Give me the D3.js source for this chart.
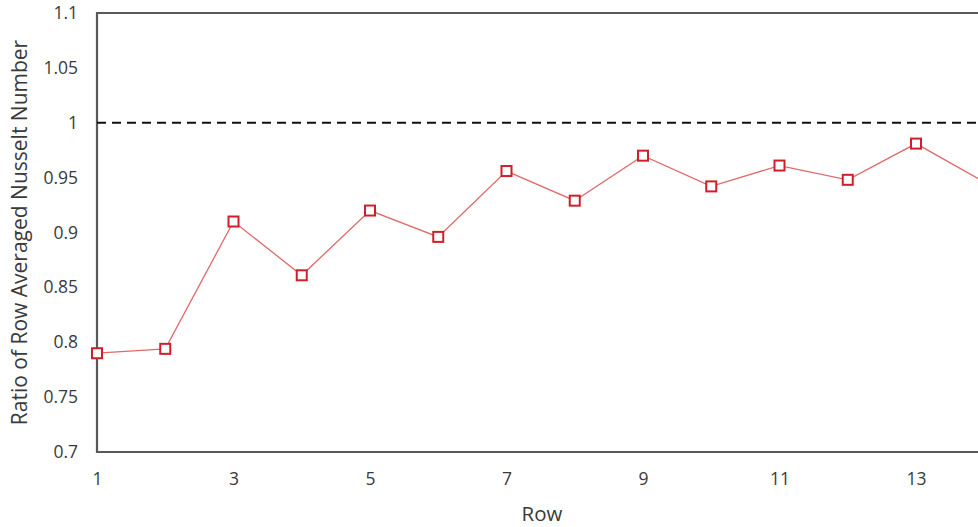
<!DOCTYPE html>
<html><head><meta charset="utf-8">
<script src="https://cdn.jsdelivr.net/npm/d3@7"></script>
<style>body{margin:0;background:#fff;overflow:hidden}svg{display:block}</style>
</head><body>
<script>
const rows = [1,2,3,4,5,6,7,8,9,10,11,12,13,14];
const ratio = [0.790,0.794,0.910,0.861,0.920,0.896,0.956,0.929,0.970,0.942,0.961,0.948,0.981,0.946];
const xTicks = [1,3,5,7,9,11,13];
const yTicks = [0.7,0.75,0.8,0.85,0.9,0.95,1,1.05,1.1];
const reference = 1.0;

const W=978,H=527;
const svg=d3.select("body").append("svg").attr("width",W).attr("height",H);
const x=d3.scaleLinear().domain([1,13]).range([97,916]);
const y=d3.scaleLinear().domain([0.7,1.1]).range([452,13]);
const font="'Open Sans', 'Liberation Sans', sans-serif";
const axisCol="#595959";

// frame
svg.append("line").attr("x1",x(1)).attr("x2",W+10).attr("y1",y(1.1)).attr("y2",y(1.1)).attr("stroke",axisCol).attr("stroke-width",2.2);
svg.append("line").attr("x1",x(1)).attr("x2",W+10).attr("y1",y(0.7)).attr("y2",y(0.7)).attr("stroke",axisCol).attr("stroke-width",2.2);
svg.append("line").attr("x1",x(1)).attr("x2",x(1)).attr("y1",y(1.1)-1.1).attr("y2",y(0.7)+1.1).attr("stroke",axisCol).attr("stroke-width",2.2);

// axes labels via d3 axis
const yAxis=svg.append("g").attr("transform",`translate(${x(1)-11},0)`)
  .call(d3.axisLeft(y).tickValues(yTicks).tickSize(0).tickPadding(8).tickFormat(d=>String(+d.toFixed(2))));
yAxis.select(".domain").remove();
yAxis.selectAll("text").attr("font-family",font).attr("font-size",17.5).attr("fill","#3a3a3a");

const xAxis=svg.append("g").attr("transform",`translate(0,${y(0.7)+15})`)
  .call(d3.axisBottom(x).tickValues(xTicks).tickSize(0).tickPadding(6).tickFormat(d3.format("d")));
xAxis.select(".domain").remove();
xAxis.selectAll("text").attr("font-family",font).attr("font-size",17.5).attr("fill","#3a3a3a");

// reference dashed line
svg.append("line").attr("x1",x(1)).attr("x2",W+10).attr("y1",y(reference)).attr("y2",y(reference))
  .attr("stroke","#111").attr("stroke-width",2.2).attr("stroke-dasharray","9,6");

// series
const pts=rows.map((r,i)=>[r,ratio[i]]);
svg.append("path").datum(pts).attr("fill","none").attr("stroke","#e06a6a").attr("stroke-width",1.3)
  .attr("d",d3.line().x(d=>x(d[0])).y(d=>y(d[1])));
svg.selectAll("rect.m").data(pts).enter().append("rect").attr("class","m")
  .attr("x",d=>x(d[0])-5).attr("y",d=>y(d[1])-5).attr("width",10).attr("height",10)
  .attr("fill","#fff").attr("stroke","#d01f2a").attr("stroke-width",2);

// titles
svg.append("text").attr("x",542).attr("y",521).attr("text-anchor","middle")
  .attr("font-family",font).attr("font-size",20.5).attr("fill","#3a3a3a").text("Row");
svg.append("text").attr("transform",`translate(27,${(y(0.7)+y(1.1))/2}) rotate(-90)`).attr("text-anchor","middle")
  .attr("font-family",font).attr("font-size",21).attr("fill","#3a3a3a").text("Ratio of Row Averaged Nusselt Number");
</script>
</body></html>
